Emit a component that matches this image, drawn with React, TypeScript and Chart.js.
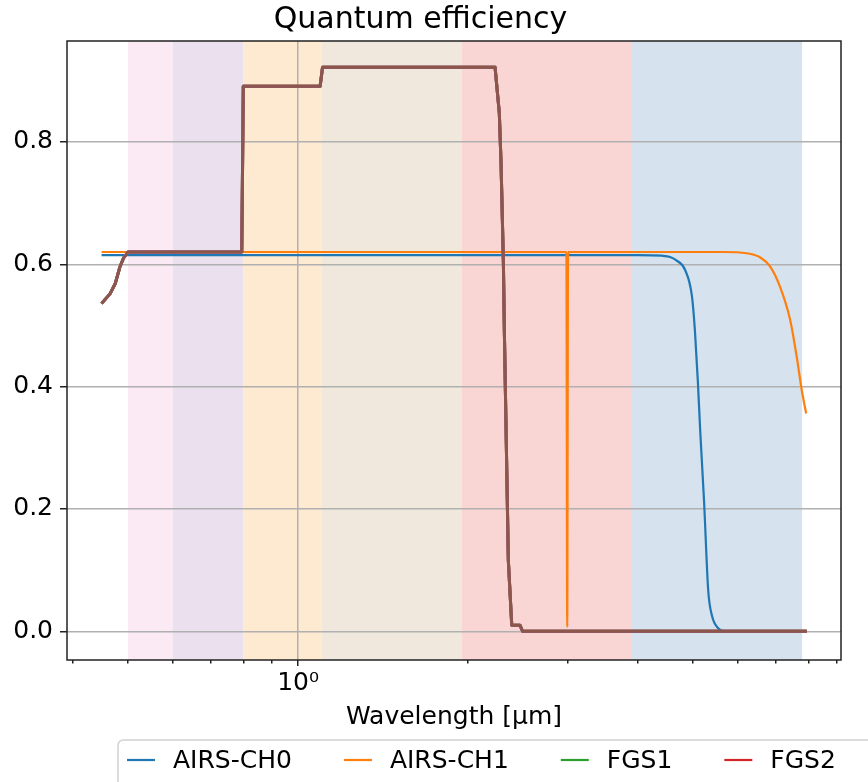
import { useEffect, useRef } from 'react';
import { Chart, registerables } from 'chart.js';

Chart.register(...registerables);

const FONT = '"DejaVu Sans", sans-serif';

// ---- series names / colours ----
const SERIES_NAMES = ['AIRS-CH0', 'AIRS-CH1', 'FGS1', 'FGS2', 'NIRSpec', 'VISPhot'];
const SERIES_COLORS = ['#1f77b4', '#ff7f0e', '#2ca02c', '#d62728', '#9467bd', '#8c564b'];
const SERIES_WIDTHS = [2.2, 2.2, 3, 3, 3, 3];
const SERIES_SMOOTH = [true, true, false, false, false, false];

// ---- AIRS-CH0 ----
const AIRS_CH0_X = [0.449, 4.0, 4.4, 4.555, 4.68, 4.84, 4.98, 5.04, 5.1, 5.15, 5.23, 5.32, 5.4, 5.54, 5.7, 7.95];
const AIRS_CH0_Y = [0.615, 0.615, 0.614, 0.612, 0.606, 0.591, 0.547, 0.491, 0.409, 0.327, 0.214, 0.067, 0.026, 0.005, 0.0, 0.0];

// ---- AIRS-CH1 ----
const AIRS_CH1_X = [0.449, 2.985, 2.995, 3.005, 5.66, 6.22, 6.58, 6.85, 7.13, 7.43, 7.63, 7.79, 7.93];
const AIRS_CH1_Y = [0.62, 0.62, 0.007, 0.62, 0.62, 0.618, 0.611, 0.596, 0.563, 0.509, 0.449, 0.394, 0.356];

// ---- photometer / NIRSpec channels (all share the visible brown curve) ----
const PHOT_X = [0.449, 0.465, 0.475, 0.484, 0.491, 0.5, 0.795, 0.8, 1.094, 1.105, 2.232, 2.271, 2.287, 2.309, 2.318, 2.356, 2.389, 2.47, 2.497, 7.95];
const PHOT_Y = [0.536, 0.552, 0.569, 0.596, 0.61, 0.62, 0.62, 0.891, 0.891, 0.922, 0.922, 0.847, 0.765, 0.602, 0.492, 0.116, 0.01, 0.01, 0.0, 0.0];

const SERIES_X = [AIRS_CH0_X, AIRS_CH1_X, PHOT_X, PHOT_X, PHOT_X, PHOT_X];
const SERIES_Y = [AIRS_CH0_Y, AIRS_CH1_Y, PHOT_Y, PHOT_Y, PHOT_Y, PHOT_Y];

// ---- shaded wavelength bands ----
const BAND_STARTS = [0.5, 0.6, 0.8, 1.1, 1.95, 3.9];
const BAND_ENDS = [0.6, 0.8, 1.1, 1.95, 3.9, 7.8];
const BAND_COLORS = [
  'rgb(251,233,244)',
  'rgb(234,224,238)',
  'rgb(253,234,209)',
  'rgb(240,232,220)',
  'rgb(249,214,212)',
  'rgb(214,226,238)',
];

// ---- axes ----
const X_MIN = 0.39;
const X_MAX = 9.14;
const X_TICKS = [0.4, 0.5, 0.6, 0.7, 0.8, 0.9, 1, 2, 3, 4, 5, 6, 7, 8, 9];
const Y_MIN = -0.047;
const Y_MAX = 0.965;
const Y_TICKS = [0, 0.2, 0.4, 0.6, 0.8];

const bandsPlugin = {
  id: 'bands',
  beforeDraw(chart: any) {
    const { ctx, chartArea, scales } = chart;
    const xs = scales.x;
    ctx.save();
    ctx.beginPath();
    ctx.rect(chartArea.left, chartArea.top, chartArea.right - chartArea.left, chartArea.bottom - chartArea.top);
    ctx.clip();
    BAND_STARTS.forEach((s, i) => {
      const x0 = xs.getPixelForValue(s);
      const x1 = xs.getPixelForValue(BAND_ENDS[i]);
      ctx.fillStyle = BAND_COLORS[i];
      ctx.fillRect(x0, chartArea.top, x1 - x0, chartArea.bottom - chartArea.top);
    });
    ctx.restore();
  },
};

const framePlugin = {
  id: 'frame',
  afterDatasetsDraw(chart: any) {
    const { ctx, chartArea } = chart;
    ctx.save();
    ctx.strokeStyle = '#222';
    ctx.lineWidth = 1.5;
    ctx.strokeRect(chartArea.left, chartArea.top, chartArea.right - chartArea.left, chartArea.bottom - chartArea.top);
    ctx.restore();
  },
};

const legendPlugin = {
  id: 'mplLegend',
  afterDraw(chart: any) {
    const { ctx } = chart;
    const left = 118;
    const top = 740;
    const cy = 760;
    ctx.save();
    ctx.font = `25px ${FONT}`;
    const widths = SERIES_NAMES.map((n) => ctx.measureText(n).width);
    let total = 9;
    widths.forEach((w, i) => {
      total += 46 + w + (i < widths.length - 1 ? 52 : 10);
    });
    const r = 6;
    const w = total;
    const h = 70;
    ctx.beginPath();
    ctx.moveTo(left + r, top);
    ctx.lineTo(left + w - r, top);
    ctx.quadraticCurveTo(left + w, top, left + w, top + r);
    ctx.lineTo(left + w, top + h - r);
    ctx.quadraticCurveTo(left + w, top + h, left + w - r, top + h);
    ctx.lineTo(left + r, top + h);
    ctx.quadraticCurveTo(left, top + h, left, top + h - r);
    ctx.lineTo(left, top + r);
    ctx.quadraticCurveTo(left, top, left + r, top);
    ctx.closePath();
    ctx.fillStyle = 'rgba(255,255,255,0.8)';
    ctx.fill();
    ctx.strokeStyle = 'rgba(204,204,204,0.9)';
    ctx.lineWidth = 1.5;
    ctx.stroke();
    let x = left + 9;
    ctx.textBaseline = 'middle';
    ctx.textAlign = 'left';
    SERIES_NAMES.forEach((name, i) => {
      ctx.strokeStyle = SERIES_COLORS[i];
      ctx.lineWidth = 2.2;
      ctx.beginPath();
      ctx.moveTo(x, cy);
      ctx.lineTo(x + 28, cy);
      ctx.stroke();
      ctx.fillStyle = '#000';
      ctx.fillText(name, x + 46, cy + 1);
      x += 46 + widths[i] + 52;
    });
    ctx.restore();
  },
};

export default function App() {
  const ref = useRef<HTMLCanvasElement>(null);

  useEffect(() => {
    const canvas = ref.current;
    if (!canvas) return;
    const n = SERIES_NAMES.length;
    const datasets = SERIES_NAMES.map((name, i) => ({
      label: name,
      data: SERIES_X[i].map((x, j) => ({ x, y: SERIES_Y[i][j] })),
      borderColor: SERIES_COLORS[i],
      backgroundColor: SERIES_COLORS[i],
      borderWidth: SERIES_WIDTHS[i],
      pointRadius: 0,
      pointHoverRadius: 0,
      tension: 0,
      cubicInterpolationMode: SERIES_SMOOTH[i] ? ('monotone' as const) : ('default' as const),
      fill: false,
      borderJoinStyle: 'round' as const,
      order: n - i,
    }));

    const chart = new Chart(canvas, {
      type: 'line',
      data: { datasets },
      options: {
        animation: false,
        responsive: false,
        maintainAspectRatio: false,
        events: [],
        layout: { padding: { left: 0, right: 27, top: 0, bottom: 0 } },
        plugins: {
          legend: { display: false },
          tooltip: { enabled: false },
          title: {
            display: true,
            text: 'Quantum efficiency',
            color: '#000',
            font: { family: FONT, size: 30, weight: 'normal' },
            padding: { top: 2, bottom: 3 },
          },
        },
        scales: {
          x: {
            type: 'logarithmic',
            min: X_MIN,
            max: X_MAX,
            afterBuildTicks: (s: any) => {
              s.ticks = X_TICKS.map((v) => ({ value: v, major: v === 1 }));
            },
            afterFit: (s: any) => {
              s.height = 122;
            },
            ticks: {
              autoSkip: false,
              maxRotation: 0,
              minRotation: 0,
              padding: 2,
              color: '#000',
              font: { family: FONT, size: 25 },
              callback: (v: any) => (Number(v) === 1 ? '10⁰' : ''),
            },
            grid: {
              color: (c: any) => (c.tick && c.tick.value === 1 ? '#b0b0b0' : 'rgba(0,0,0,0)'),
              lineWidth: 1.5,
              tickColor: '#222',
              tickLength: 6,
              tickWidth: 1.5,
              tickBorderDash: (c: any) => (c.tick && c.tick.value === 1 ? [] : [3.5, 20]),
            },
            border: { display: false },
            title: {
              display: true,
              text: 'Wavelength [μm]',
              color: '#000',
              font: { family: FONT, size: 25 },
              padding: { top: 0, bottom: 50 },
            },
          },
          y: {
            type: 'linear',
            min: Y_MIN,
            max: Y_MAX,
            afterBuildTicks: (s: any) => {
              s.ticks = Y_TICKS.map((v) => ({ value: v }));
            },
            afterFit: (s: any) => {
              s.width = 67;
            },
            ticks: {
              padding: 7,
              color: '#000',
              font: { family: FONT, size: 25 },
              callback: (v: any) => Number(v).toFixed(1),
            },
            grid: {
              color: '#b0b0b0',
              lineWidth: 1.5,
              tickColor: '#222',
              tickLength: 7,
              tickWidth: 1.5,
            },
            border: { display: false },
          },
        },
      } as any,
      plugins: [bandsPlugin, framePlugin, legendPlugin],
    });
    return () => chart.destroy();
  }, []);

  return (
    <div style={{ position: 'absolute', left: 0, top: 0, width: 868, height: 782, background: '#fff', overflow: 'hidden' }}>
      <canvas ref={ref} width={868} height={782} style={{ display: 'block', width: 868, height: 782 }} />
    </div>
  );
}
